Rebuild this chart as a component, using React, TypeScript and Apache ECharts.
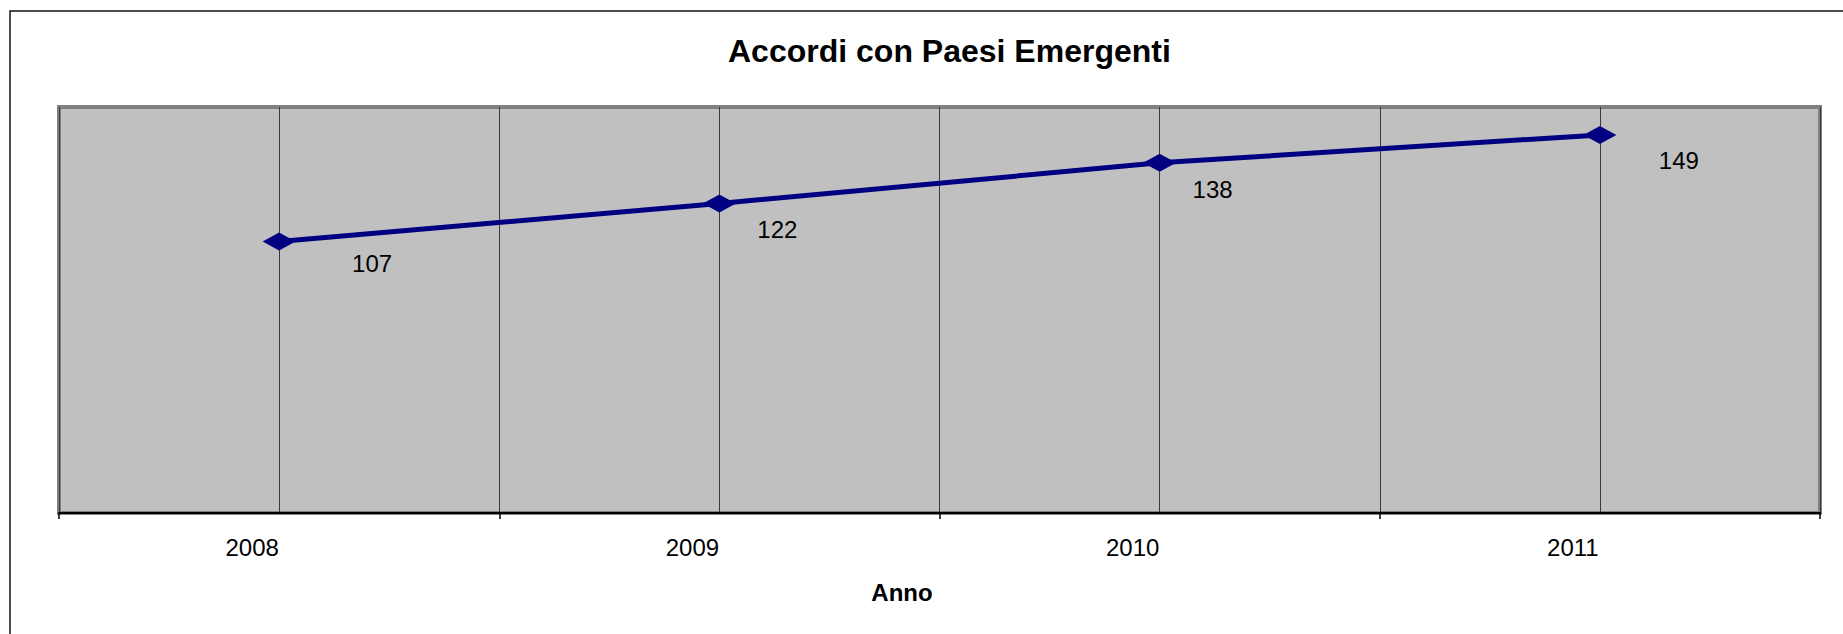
import React, { useEffect, useRef } from "react";
import * as echarts from "echarts";

const years = ["2008", "2009", "2010", "2011"];
const accordi = [107, 122, 138, 149];
const yMin = 0;
const yMax = 160;

const FONT = "'Liberation Sans', Arial, Helvetica, sans-serif";

export default function App() {
  const ref = useRef<HTMLDivElement>(null);

  useEffect(() => {
    document.body.style.margin = "0";
    if (!ref.current) return;
    const chart = echarts.init(ref.current, undefined, { renderer: "svg" });

    const labelOffsets = [
      [93, 22],
      [58, 26],
      [53, 27],
      [79, 26],
    ];

    chart.setOption({
      animation: false,
      backgroundColor: "#ffffff",
      title: {
        text: "Accordi con Paesi Emergenti",
        left: 728,
        top: 35,
        padding: 0,
        textStyle: {
          fontFamily: FONT,
          fontSize: 32,
          fontWeight: "bold",
          color: "#000000",
        },
      },
      graphic: [
        {
          type: "rect",
          silent: true,
          shape: { x: 10, y: 11, width: 3000, height: 3000 },
          style: { fill: "none", stroke: "#111111", lineWidth: 1.5 },
          z: -1,
        },
      ],
      grid: {
        left: 59,
        top: 107,
        right: 23,
        bottom: 121,
        show: true,
        backgroundColor: "#C0C0C0",
        borderColor: "#808080",
        borderWidth: 4,
      },
      xAxis: [
        {
          type: "category",
          data: years,
          boundaryGap: true,
          position: "bottom",
          axisLine: { show: true, lineStyle: { color: "#000000", width: 2 } },
          axisTick: { show: true, length: 6, lineStyle: { color: "#000000", width: 1.5 } },
          axisLabel: {
            fontFamily: FONT,
            fontSize: 24,
            color: "#000000",
            margin: 22,
            padding: [0, 54, 0, 0],
          },
          splitLine: { show: false },
          name: "Anno",
          nameLocation: "middle",
          nameGap: 67,
          nameTextStyle: {
            fontFamily: FONT,
            fontSize: 24,
            fontWeight: "bold",
            color: "#000000",
            padding: [0, 75, 0, 0],
          },
        },
        {
          type: "value",
          min: 0,
          max: years.length,
          interval: 0.5,
          position: "bottom",
          axisLine: { show: false },
          axisTick: { show: false },
          axisLabel: { show: false },
          splitLine: { show: true, lineStyle: { color: "#3a3a3a", width: 1 } },
        },
      ],
      yAxis: {
        type: "value",
        min: yMin,
        max: yMax,
        show: false,
      },
      series: [
        {
          name: "Accordi con Paesi Emergenti",
          type: "line",
          xAxisIndex: 0,
          data: accordi.map((v, i) => ({
            value: v,
            label: { offset: labelOffsets[i] },
          })),
          symbol: "diamond",
          symbolSize: [33, 18],
          itemStyle: { color: "#000080" },
          lineStyle: { color: "#000080", width: 5 },
          label: {
            show: true,
            position: "inside",
            fontFamily: FONT,
            fontSize: 24,
            color: "#000000",
          },
          z: 5,
        },
      ],
    });

    return () => chart.dispose();
  }, []);

  return <div ref={ref} style={{ width: 1843, height: 634 }} />;
}
